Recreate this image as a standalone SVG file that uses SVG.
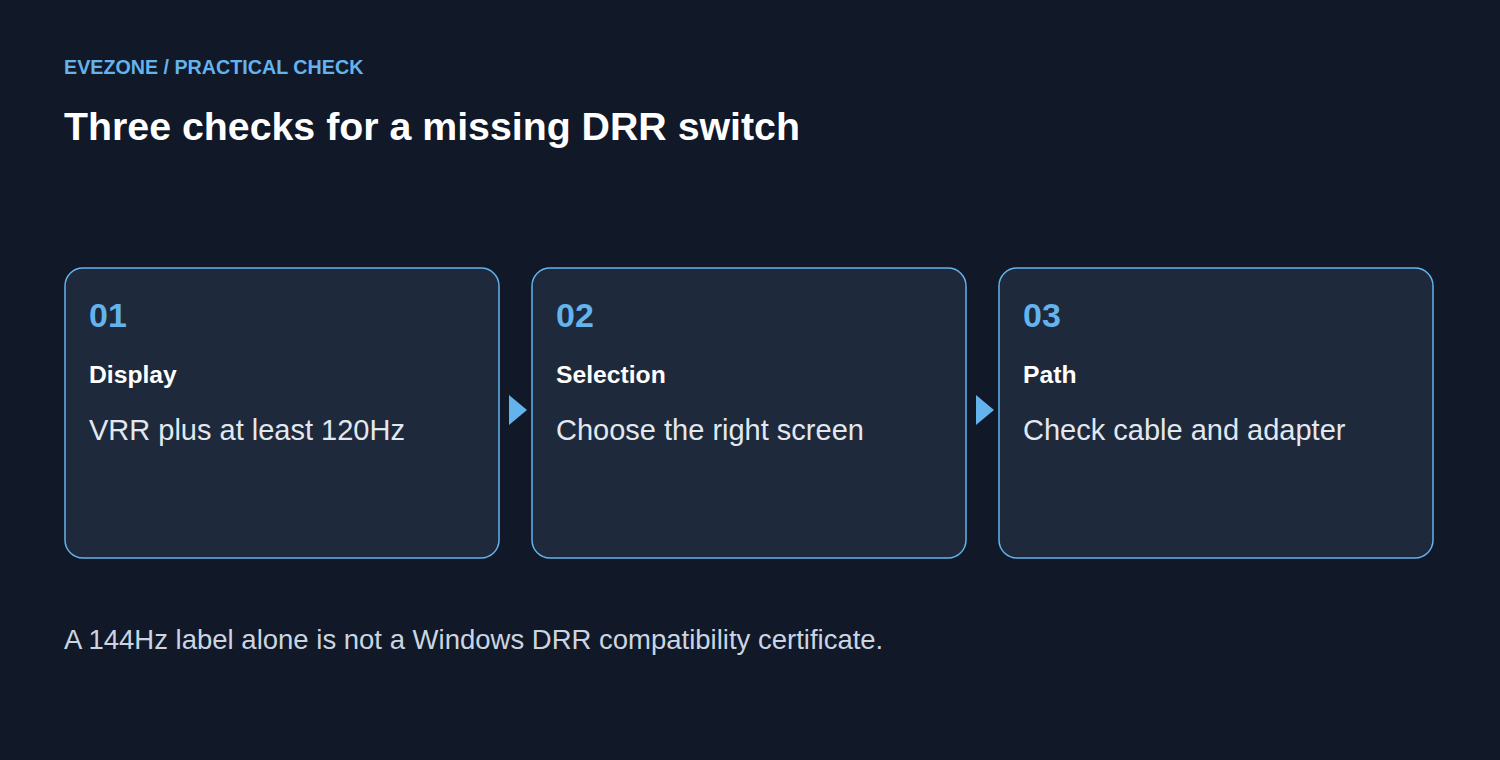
<svg xmlns="http://www.w3.org/2000/svg" width="1500" height="760" viewBox="0 0 1500 760">
<style>
.kicker{font-family:"Liberation Sans",Arial,sans-serif;font-weight:bold;font-size:19.7px;fill:#63b3ed}
.title{font-family:"Liberation Sans",Arial,sans-serif;font-weight:bold;font-size:39.3px;fill:#ffffff}
.card{fill:#1e293b;stroke:#63b3ed;stroke-width:1.5}
.num{font-family:"Liberation Sans",Arial,sans-serif;font-weight:bold;font-size:34px;fill:#63b3ed}
.head{font-family:"Liberation Sans",Arial,sans-serif;font-weight:bold;font-size:24.7px;fill:#ffffff}
.body{font-family:"Liberation Sans",Arial,sans-serif;font-size:29px;fill:#e2e8f0}
.foot{font-family:"Liberation Sans",Arial,sans-serif;font-size:27.5px;fill:#cbd5e1}
.arrow{fill:#63b3ed}
</style>
<rect width="1500" height="760" fill="#111827"/>
<text class="kicker" x="64" y="74">EVEZONE / PRACTICAL CHECK</text>
<text class="title" x="64" y="140">Three checks for a missing DRR switch</text>
<g id="connectors">
<polygon class="arrow" points="509,395 527,410 509,425"/>
<polygon class="arrow" points="976,395 994,410 976,425"/>
</g>
<g id="node1">
<rect class="card" x="65" y="268" width="434" height="290" rx="18"/>
<text class="num" x="89" y="327">01</text>
<text class="head" x="89" y="383">Display</text>
<text class="body" x="89" y="440">VRR plus at least 120Hz</text>
</g>
<g id="node2">
<rect class="card" x="532" y="268" width="434" height="290" rx="18"/>
<text class="num" x="556" y="327">02</text>
<text class="head" x="556" y="383">Selection</text>
<text class="body" x="556" y="440">Choose the right screen</text>
</g>
<g id="node3">
<rect class="card" x="999" y="268" width="434" height="290" rx="18"/>
<text class="num" x="1023" y="327">03</text>
<text class="head" x="1023" y="383">Path</text>
<text class="body" x="1023" y="440">Check cable and adapter</text>
</g>
<text class="foot" x="64" y="649">A 144Hz label alone is not a Windows DRR compatibility certificate.</text>
</svg>
